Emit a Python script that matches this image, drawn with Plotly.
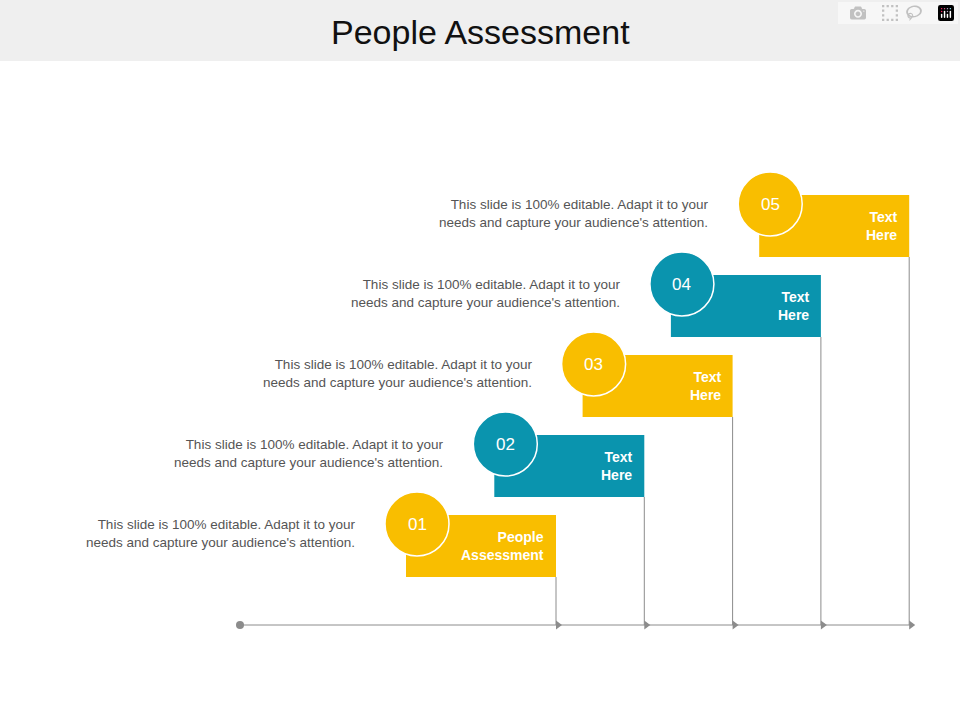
import plotly.graph_objects as go

title = "People Assessment"
step_numbers = ["01", "02", "03", "04", "05"]
step_labels = ["People<br>Assessment", "Text<br>Here", "Text<br>Here", "Text<br>Here", "Text<br>Here"]
descriptions = ["This slide is 100% editable. Adapt it to your<br>needs and capture your audience's attention."] * 5
step_colors = ["#F9BE00", "#0A94AE", "#F9BE00", "#0A94AE", "#F9BE00"]

W, H = 960, 720
fig = go.Figure()
shapes = []

# header band
shapes.append(dict(type="rect", x0=0, x1=W, y0=0, y1=61, fillcolor="#EFEFEF", line_width=0, layer="below"))

base_y = 625
xs_end = []
for i, num in enumerate(step_numbers):
    x0 = 406 + i * 88.3
    x1 = x0 + 150
    y0 = 515 - i * 80
    y1 = y0 + 62
    xs_end.append(x1)
    col = step_colors[i]
    # stem line
    shapes.append(dict(type="line", x0=x1, x1=x1, y0=y1, y1=base_y, line=dict(color="#8C8C8C", width=1), layer="below"))
    shapes.append(dict(type="rect", x0=x0, x1=x1, y0=y0, y1=y1, fillcolor=col, line_width=0, layer="below"))
    fig.add_trace(go.Scatter(x=[x0 + 11], y=[y0 + 9], mode="markers",
                             marker=dict(size=64, color=col, line=dict(color="white", width=1.5)),
                             hoverinfo="skip"))
    fig.add_annotation(x=x0 + 11, y=y0 + 9, text=num, showarrow=False,
                       font=dict(color="white", size=17, family="Arial"))
    fig.add_annotation(x=x1 - 10, y=y0 + 31, text="<b>" + step_labels[i] + "</b>", showarrow=False,
                       xanchor="right", align="right", font=dict(color="white", size=14, family="Arial"))
    fig.add_annotation(x=x0 - 48, y=y0 + 18, text=descriptions[i], showarrow=False,
                       xanchor="right", align="right", font=dict(color="#555555", size=13.5, family="Arial"))

# baseline
shapes.append(dict(type="line", x0=240, x1=913, y0=base_y, y1=base_y, line=dict(color="#8C8C8C", width=1), layer="below"))
fig.add_trace(go.Scatter(x=[240], y=[base_y], mode="markers", marker=dict(size=8, color="#8C8C8C"), hoverinfo="skip"))
fig.add_trace(go.Scatter(x=[x + 2 for x in xs_end], y=[base_y] * len(xs_end), mode="markers",
                         marker=dict(symbol="triangle-right", size=8, color="#8C8C8C"), hoverinfo="skip"))

fig.add_annotation(x=W / 2, y=32, text=title, showarrow=False, font=dict(size=34, color="#111111", family="Arial"))

fig.update_layout(width=W, height=H, margin=dict(l=0, r=0, t=0, b=0), shapes=shapes,
                  showlegend=False, plot_bgcolor="white", paper_bgcolor="white",
                  xaxis=dict(range=[0, W], visible=False, fixedrange=True),
                  yaxis=dict(range=[H, 0], visible=False, fixedrange=True))
fig.write_html("out.html", post_script="document.body.style.margin='0';")
